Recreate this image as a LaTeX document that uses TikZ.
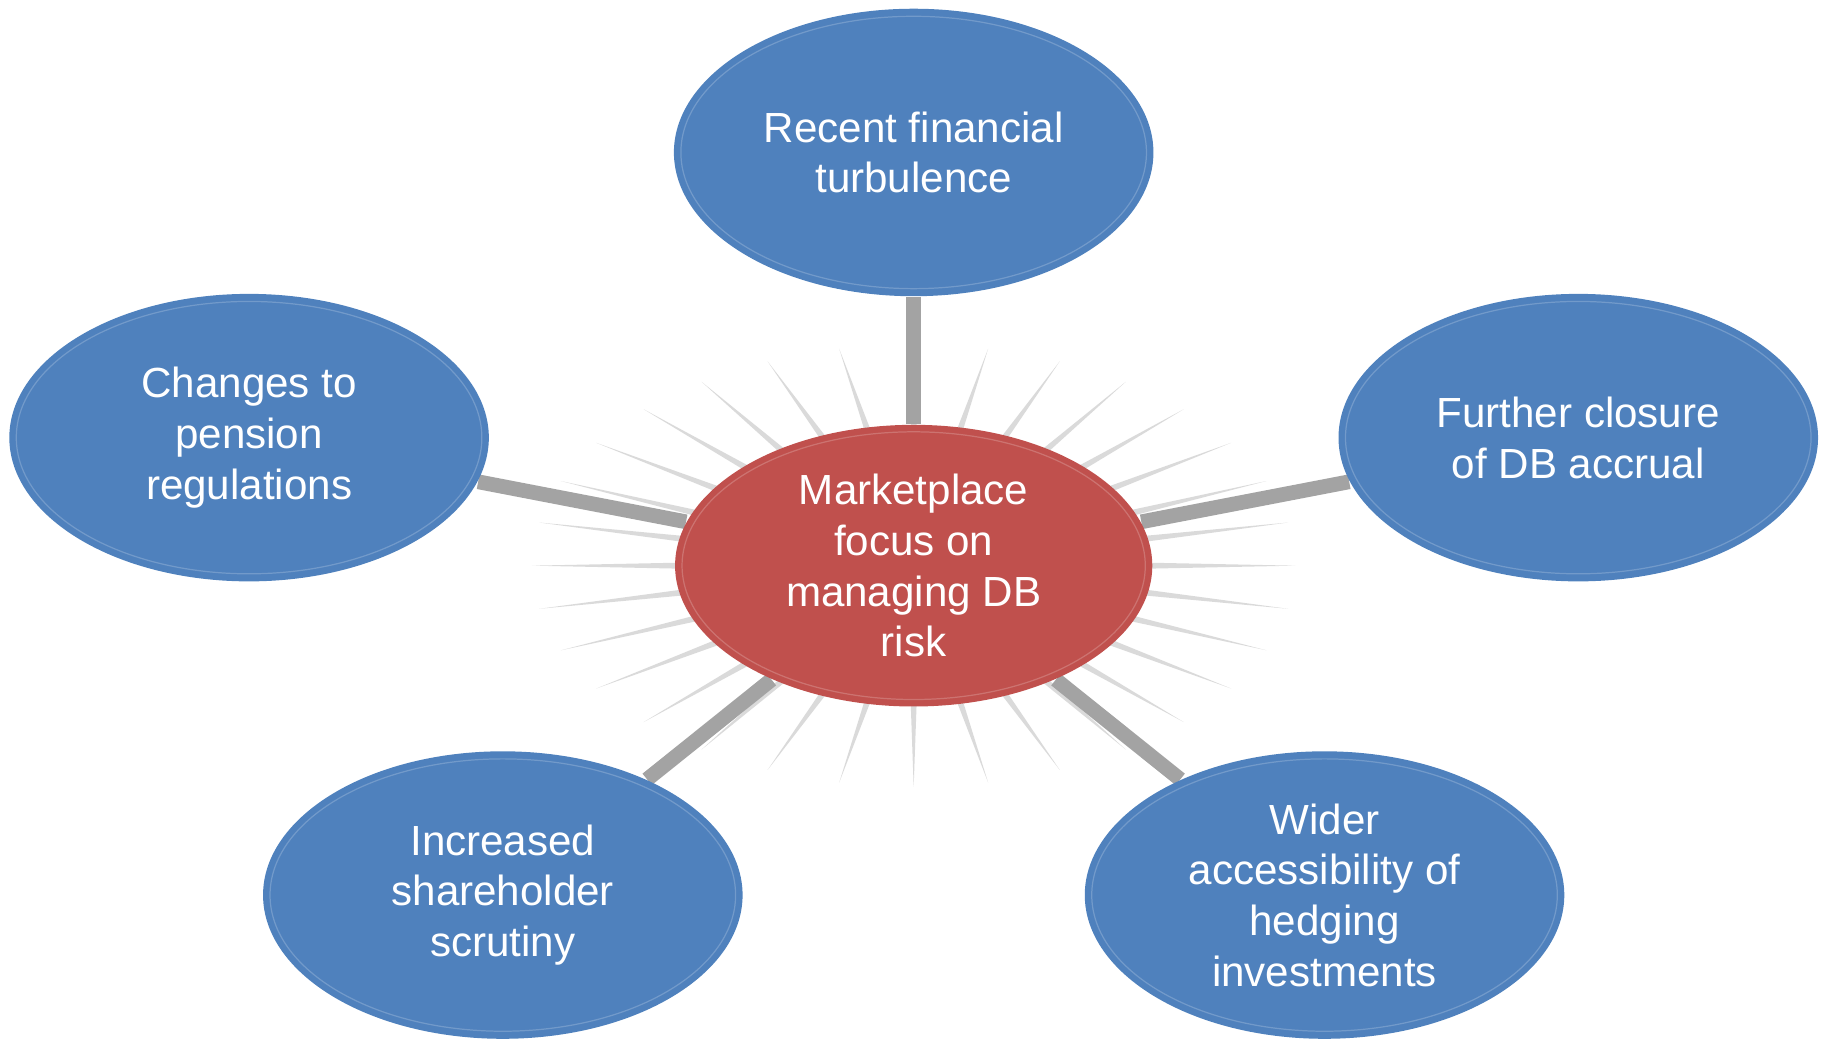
\documentclass[tikz,border=0pt]{standalone}
\usepackage{fontspec}
\setmainfont{Liberation Sans}
\usetikzlibrary{shapes.geometric,calc}
\pgfdeclarelayer{background}
\pgfsetlayers{background,main}
\definecolor{causeblue}{HTML}{4F81BD}
\definecolor{focusred}{HTML}{C0504D}
\definecolor{linkgray}{HTML}{A3A3A3}
\definecolor{raygray}{HTML}{DADADA}
\tikzset{rim/.style 2 args={path picture={\draw[white, opacity=0.2, line width=0.3pt]
  (path picture bounding box.center) ellipse [x radius=#1, y radius=#2];}}}
\tikzstyle{cause} = [ellipse, fill=causeblue, text=white, align=center, inner sep=0pt,
  minimum width=4.12cm, minimum height=2.47cm, rim={2.0cm}{1.17cm},
  font=\fontsize{10.3}{12.4}\selectfont]
\tikzstyle{focus} = [cause, fill=focusred, minimum width=4.10cm,
  minimum height=2.42cm, rim={1.99cm}{1.15cm}]
\tikzstyle{line} = [draw, line width=3.6pt, color=linkgray]
\newcommand{\driver}[2]{node (p#1)[cause]{#2}}

\begin{document}
\begin{tikzpicture}
	\useasboundingbox (0,0) rectangle (15.68,8.94);

	% Draw diagram elements
	\node (hub)[focus] at (7.85,4.08) {Marketplace\\focus on\\managing DB\\risk};
	\path (hub)+(0,3.55) \driver{1}{Recent financial\\turbulence};
	\path (hub)+(-5.71,1.10) \driver{2}{Changes to\\pension\\regulations};
	\path (hub)+(5.71,1.10) \driver{3}{Further closure\\of DB accrual};
	\path (hub)+(-3.53,-2.83) \driver{4}{Increased\\shareholder\\scrutiny};
	\path (hub)+(3.53,-2.83) \driver{5}{Wider\\accessibility of\\hedging\\investments};

	\begin{pgfonlayer}{background}
	% Burst behind the focus node
	\foreach \t in {0,11.25,...,348.75} {
		\path (hub.center) ++({3.28*cos(\t)},{1.90*sin(\t)}) coordinate (tip)
			(hub.center) ++({1.95*cos(\t)},{1.14*sin(\t)}) coordinate (base);
		\fill[raygray] ($(base)!0.027cm!90:(tip)$) -- (tip) -- ($(base)!0.027cm!-90:(tip)$) -- cycle;
	}

	% Draw links between elements
	\path [line] (hub) -- (p1);
	\path [line] (hub) -- (p2);
	\path [line] (hub) -- (p3);
	\path [line] (hub) -- (p4);
	\path [line] (hub) -- (p5);
	\end{pgfonlayer}

\end{tikzpicture}
\end{document}
